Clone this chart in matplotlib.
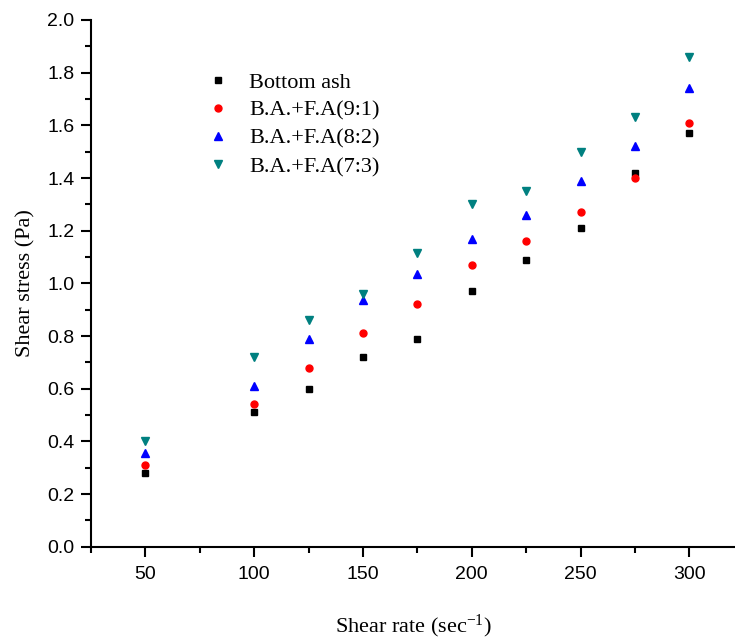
import matplotlib
matplotlib.use("Agg")
import matplotlib.pyplot as plt
from matplotlib.ticker import MultipleLocator

shear_rate = [50, 100, 125, 150, 175, 200, 225, 250, 275, 300]
bottom_ash = [0.28, 0.51, 0.60, 0.72, 0.79, 0.97, 1.09, 1.21, 1.42, 1.57]
ba_fa_91 = [0.31, 0.54, 0.68, 0.81, 0.92, 1.07, 1.16, 1.27, 1.40, 1.61]
ba_fa_82 = [0.355, 0.61, 0.79, 0.935, 1.035, 1.17, 1.26, 1.39, 1.52, 1.74]
ba_fa_73 = [0.40, 0.72, 0.86, 0.96, 1.115, 1.30, 1.35, 1.50, 1.63, 1.86]
labels = ["Bottom ash", "B.A.+F.A(9:1)", "B.A.+F.A(8:2)", "B.A.+F.A(7:3)"]

plt.rcParams['mathtext.fontset'] = 'custom'
plt.rcParams['mathtext.rm'] = 'Liberation Serif'
plt.rcParams['mathtext.it'] = 'Liberation Serif'

fig = plt.figure(figsize=(7.35, 6.42), dpi=100)
ax = fig.add_axes([91/735, 95.3/642, 1 - 91/735, (546.7-20)/642])

ax.plot(shear_rate, bottom_ash, ls='none', marker='s', ms=4.5, color='black', label=labels[0])
ax.plot(shear_rate, ba_fa_91, ls='none', marker='o', ms=5, color='#FF0000', label=labels[1])
ax.plot(shear_rate, ba_fa_82, ls='none', marker='^', ms=6, color='#0000FF', label=labels[2])
ax.plot(shear_rate, ba_fa_73, ls='none', marker='v', ms=6, color='#008080', label=labels[3])

ax.set_xlim(25, 321)
ax.set_ylim(0, 2.0)
ax.xaxis.set_major_locator(MultipleLocator(50))
ax.xaxis.set_minor_locator(MultipleLocator(25))
ax.yaxis.set_major_locator(MultipleLocator(0.2))
ax.yaxis.set_minor_locator(MultipleLocator(0.1))
ax.yaxis.set_major_formatter(matplotlib.ticker.FormatStrFormatter('%.1f'))

for s in ['top', 'right']:
    ax.spines[s].set_visible(False)
for s in ['left', 'bottom']:
    ax.spines[s].set_linewidth(1.5)

ax.tick_params(which='major', direction='out', length=7, width=1.5, labelsize=14, pad=5)
ax.tick_params(axis='x', which='major', pad=7)
ax.tick_params(which='minor', direction='out', length=4, width=1.5)
for lab in ax.get_xticklabels() + ax.get_yticklabels():
    lab.set_fontfamily('Liberation Sans')

ax.set_xlabel("Shear rate (sec$^{\\mathrm{-1}}$)", fontfamily='Liberation Serif', fontsize=16, labelpad=21)
ax.set_ylabel("Shear stress (Pa)", fontfamily='Liberation Serif', fontsize=16, labelpad=8)

leg = ax.legend(loc='upper left', bbox_to_anchor=(196/735, 1 - 61/642), bbox_transform=fig.transFigure,
                frameon=False, prop={'family': 'Liberation Serif', 'size': 16},
                handlelength=1.0, handletextpad=0.9, labelspacing=0.34, borderpad=0)

fig.savefig("out.png", dpi=100)
